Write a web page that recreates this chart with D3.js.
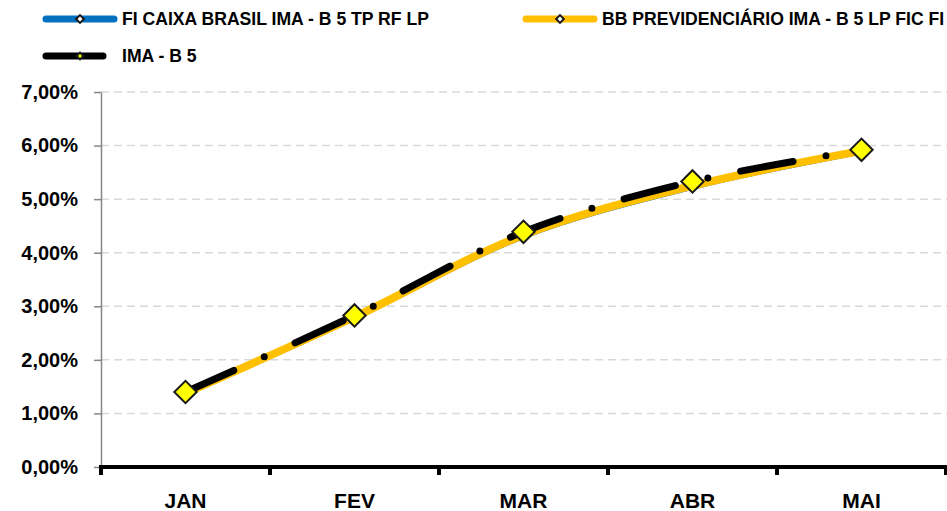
<!DOCTYPE html>
<html>
<head>
<meta charset="utf-8">
<script src="https://cdn.jsdelivr.net/npm/d3@7"></script>
<style>
  body { margin: 0; background: #fff; }
  text { font-family: "Liberation Sans", Arial, sans-serif; font-weight: bold; fill: #000; }
</style>
</head>
<body>
<svg id="chart" width="947" height="511"></svg>
<script>
// months on the x axis
var months = ["JAN", "FEV", "MAR", "ABR", "MAI"];

// accumulated return per month (fractions)
var caixa = [0.0137, 0.0279, 0.0431, 0.0523, 0.0589];
var bbPrev = [0.0138, 0.0280, 0.0433, 0.0525, 0.0590];
var imaB5 = [0.0140, 0.0283, 0.0439, 0.0533, 0.0592];

var yTicks = [0, 0.01, 0.02, 0.03, 0.04, 0.05, 0.06, 0.07];

var series = [
    { name: "FI CAIXA BRASIL IMA - B 5 TP RF LP", values: caixa, color: "#0070C0" },
    { name: "BB PREVIDENCIÁRIO IMA - B 5 LP FIC FI", values: bbPrev, color: "#FFC000" },
    { name: "IMA - B 5", values: imaB5, color: "#000000" }
];

var svg = d3.select("#chart");

var x = d3.scaleBand().domain(months).range([101, 946]);
var y = d3.scaleLinear().domain([0, 0.07]).range([467, 92]);

var ptBR = d3.formatLocale({ decimal: ",", thousands: ".", grouping: [3], currency: ["R$", ""] });
var pct = ptBR.format(".2%");

// gridlines
svg.append("g").selectAll("line")
    .data(yTicks.slice(1))
    .enter().append("line")
    .attr("x1", 101).attr("x2", 947)
    .attr("y1", function(d) { return y(d); })
    .attr("y2", function(d) { return y(d); })
    .attr("stroke", "#D9D9D9")
    .attr("stroke-width", 1.5)
    .attr("stroke-dasharray", "8,5");

// y axis
var yAxis = svg.append("g")
    .attr("transform", "translate(101,0)")
    .call(d3.axisLeft(y).tickValues(yTicks).tickFormat(pct).tickSize(7).tickSizeOuter(0).tickPadding(16));
yAxis.select(".domain").attr("stroke", "#868686").attr("stroke-width", 1.5);
yAxis.selectAll(".tick line").attr("stroke", "#868686").attr("stroke-width", 1.5);
yAxis.selectAll(".tick text").style("font-size", "20px").attr("fill", "#000");

// x axis, ticks between categories
var bounds = months.map(function(m) { return x(m); }).concat([x.range()[1]]);
svg.append("g").selectAll("line")
    .data(bounds)
    .enter().append("line")
    .attr("x1", function(d) { return d; }).attr("x2", function(d) { return d; })
    .attr("y1", 467).attr("y2", 475)
    .attr("stroke", "#000").attr("stroke-width", 4);
svg.append("line")
    .attr("x1", 99).attr("x2", 947)
    .attr("y1", 467).attr("y2", 467)
    .attr("stroke", "#000").attr("stroke-width", 4);
svg.append("g").selectAll("text")
    .data(months)
    .enter().append("text")
    .attr("x", function(d) { return x(d) + x.bandwidth() / 2; })
    .attr("y", 508)
    .attr("text-anchor", "middle")
    .style("font-size", "21px")
    .text(function(d) { return d; });

// lines
var line = d3.line()
    .x(function(d, i) { return x(months[i]) + x.bandwidth() / 2; })
    .y(function(d) { return y(d); })
    .curve(d3.curveCatmullRom.alpha(0.5));

var plot = svg.append("g");
plot.append("path").datum(caixa)
    .attr("d", line).attr("fill", "none")
    .attr("stroke", "#0070C0").attr("stroke-width", 6).attr("stroke-linecap", "round");
plot.append("path").datum(bbPrev)
    .attr("d", line).attr("fill", "none")
    .attr("stroke", "#FFC000").attr("stroke-width", 8).attr("stroke-linecap", "round");

// small hollow markers for the two funds (mostly hidden)
[caixa, bbPrev].forEach(function(vals) {
    plot.append("g").selectAll("path")
        .data(vals)
        .enter().append("path")
        .attr("transform", function(d, i) { return "translate(" + (x(months[i]) + x.bandwidth() / 2) + "," + y(d) + ") rotate(45)"; })
        .attr("d", d3.symbol(d3.symbolSquare, 40))
        .attr("fill", "#fff").attr("stroke", "#222").attr("stroke-width", 1.5);
});

plot.append("path").datum(imaB5)
    .attr("d", line).attr("fill", "none")
    .attr("stroke", "#000").attr("stroke-width", 7)
    .attr("stroke-linecap", "round")
    .attr("stroke-dasharray", "53,33.5,0,33.5");

plot.append("g").selectAll("path")
    .data(imaB5)
    .enter().append("path")
    .attr("transform", function(d, i) { return "translate(" + (x(months[i]) + x.bandwidth() / 2) + "," + y(d) + ") rotate(45)"; })
    .attr("d", d3.symbol(d3.symbolSquare, 250))
    .attr("fill", "#FFFF00").attr("stroke", "#1a1a1a").attr("stroke-width", 2);

// legend
var legendPos = [
    { x1: 46, x2: 114, y: 19, tx: 122, mx: 80 },
    { x1: 526, x2: 594, y: 19, tx: 602, mx: 560 },
    { x1: 46, x2: 103, y: 56, tx: 122, mx: 80 }
];
var leg = svg.append("g").selectAll("g")
    .data(series)
    .enter().append("g");
leg.append("line")
    .attr("x1", function(d, i) { return legendPos[i].x1; })
    .attr("x2", function(d, i) { return legendPos[i].x2; })
    .attr("y1", function(d, i) { return legendPos[i].y; })
    .attr("y2", function(d, i) { return legendPos[i].y; })
    .attr("stroke", function(d) { return d.color; })
    .attr("stroke-width", 7).attr("stroke-linecap", "round");
leg.append("path")
    .attr("transform", function(d, i) { return "translate(" + legendPos[i].mx + "," + legendPos[i].y + ") rotate(45)"; })
    .attr("d", function(d, i) { return d3.symbol(d3.symbolSquare, i === 2 ? 22 : 30)(); })
    .attr("fill", function(d, i) { return i === 2 ? "#FFFF00" : "#fff"; })
    .attr("stroke", "#1a1a1a").attr("stroke-width", 2);
leg.append("text")
    .attr("x", function(d, i) { return legendPos[i].tx; })
    .attr("y", function(d, i) { return legendPos[i].y + 6; })
    .style("font-size", "17.6px")
    .text(function(d) { return d.name; });
</script>
</body>
</html>
